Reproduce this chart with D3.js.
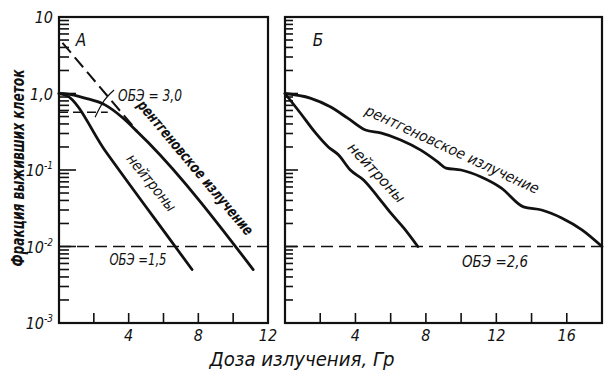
<!DOCTYPE html>
<html>
<head>
<meta charset="utf-8">
<script src="https://cdn.jsdelivr.net/npm/d3@7"></script>
<style>
  body { margin: 0; background: #fff; }
  text { font-family: "Liberation Sans Narrow", "DejaVu Sans Condensed", "Roboto", sans-serif; font-style: italic; fill: #111; }
</style>
</head>
<body>
<div id="chart"></div>
<script>
// values (dose in Gy, surviving fraction)
const neutronA = [[0, 1.0], [0.4, 0.95], [2.64, 0.18], [6.67, 0.01], [7.64, 0.005]];
const xrayA = [[0, 1.0], [0.52, 0.98], [1.5, 0.87], [2.64, 0.71], [3.62, 0.49], [4.54, 0.31], [5.11, 0.23], [11.15, 0.005]];
const xrayAExtrap = [[0.2, 4.6], [4.5, 0.32]];
const neutronB = [[0, 1.0], [0.86, 0.56], [1.71, 0.31], [2.46, 0.2], [3.03, 0.158], [3.71, 0.1], [4.46, 0.074],
                  [5.26, 0.045], [6.0, 0.0275], [6.74, 0.0175], [7.54, 0.01]];
const xrayB = [[0, 1.0], [1.43, 0.87], [2.57, 0.67], [3.54, 0.48], [4.57, 0.333], [5.43, 0.305], [6.57, 0.247],
               [7.71, 0.182], [8.69, 0.127], [9.14, 0.106], [10.0, 0.1], [11.14, 0.081], [12.29, 0.058],
               [13.54, 0.033], [14.57, 0.03], [15.71, 0.0236], [16.86, 0.0165], [18.0, 0.01]];
const level = 0.01;
const obeLevelA = 0.57;
const xTicksA = [2, 4, 6, 8, 10];
const xTicksB = [2, 4, 6, 8, 10, 12, 14, 16];
const xLabelsA = [4, 8, 12];
const xLabelsB = [4, 8, 12, 16];
const yLabels = [[10, "10", ""], [1, "1,0", ""], [0.1, "10", "-1"], [0.01, "10", "-2"], [0.001, "10", "-3"]];

const W = 616, H = 378;
const svg = d3.select("#chart").append("svg").attr("width", W).attr("height", H);

const y = d3.scaleLog().domain([0.001, 10]).range([323, 17]);
const xA = d3.scaleLinear().domain([0, 12]).range([59, 268]);
const xB = d3.scaleLinear().domain([0, 18]).range([285, 602]);

// log minor ticks
const yTicks = [];
for (let d = -3; d <= 0; d++) {
  for (let m = 1; m <= 9; m++) yTicks.push({v: m * Math.pow(10, d), major: m === 1});
}

function panel(x, xTicks, xLabels, majorLen, minorLen) {
  const x0 = x.range()[0], x1 = x.range()[1];
  const g = svg.append("g");
  g.append("rect").attr("x", x0).attr("y", y(10)).attr("width", x1 - x0).attr("height", y(0.001) - y(10))
    .attr("fill", "none").attr("stroke", "#111").attr("stroke-width", 2.2);
  g.selectAll(".yt").data(yTicks.filter(t => t.v > 0.001)).enter().append("line")
    .attr("x1", x0).attr("x2", d => x0 + (d.major ? majorLen : minorLen))
    .attr("y1", d => y(d.v)).attr("y2", d => y(d.v))
    .attr("stroke", "#111").attr("stroke-width", 1.6);
  g.selectAll(".xt").data(xTicks).enter().append("line")
    .attr("x1", d => x(d)).attr("x2", d => x(d))
    .attr("y1", y(0.001)).attr("y2", y(0.001) - 10)
    .attr("stroke", "#111").attr("stroke-width", 1.6);
  g.selectAll(".xl").data(xLabels).enter().append("text")
    .attr("x", d => x(d)).attr("y", 341).attr("text-anchor", "middle")
    .attr("font-size", 16).text(d => d);
  // 10^-2 dashed level
  g.append("line").attr("x1", x0).attr("x2", x1).attr("y1", y(level)).attr("y2", y(level))
    .attr("stroke", "#111").attr("stroke-width", 1.5).attr("stroke-dasharray", "12,6");
  return g;
}

const gA = panel(xA, xTicksA, xLabelsA, 17, 10);
const gB = panel(xB, xTicksB, xLabelsB, 13, 8);

function curve(g, x, data, width, dash) {
  const line = d3.line().x(d => x(d[0])).y(d => y(d[1])).curve(d3.curveMonotoneX);
  const p = g.append("path").datum(data).attr("d", line)
    .attr("fill", "none").attr("stroke", "#111").attr("stroke-width", width)
    .attr("stroke-linejoin", "round").attr("stroke-linecap", "round");
  if (dash) p.attr("stroke-dasharray", dash).attr("stroke-linecap", "butt");
  return p;
}

curve(gA, xA, neutronA, 2.8);
curve(gA, xA, xrayA, 2.8);
curve(gA, xA, xrayAExtrap, 2, "13,6");
curve(gB, xB, neutronB, 2.8);
curve(gB, xB, xrayB, 2.8);

// short dashed level at the shoulder in panel A
gA.append("line").attr("x1", xA(0)).attr("x2", xA(2.8))
  .attr("y1", y(obeLevelA)).attr("y2", y(obeLevelA))
  .attr("stroke", "#111").attr("stroke-width", 1.4).attr("stroke-dasharray", "9,5");
// thin arc pointer for "ОБЭ = 3,0"
gA.append("path").datum([[2.07, 0.49], [2.58, 0.8], [3.16, 1.11]])
  .attr("d", d3.line().x(d => xA(d[0])).y(d => y(d[1])).curve(d3.curveNatural))
  .attr("fill", "none").attr("stroke", "#111").attr("stroke-width", 1.2);

// y tick labels
const yl = svg.selectAll(".yl").data(yLabels).enter().append("text")
  .attr("x", 53).attr("y", d => y(d[0]) + 6).attr("text-anchor", "end").attr("font-size", 16);
yl.append("tspan").text(d => d[1]);
yl.append("tspan").attr("dy", -7).attr("font-size", 10).text(d => d[2]);

// annotations
function label(x, yy, txt, size, rot, len, weight) {
  const t = svg.append("text").attr("transform", `translate(${x},${yy}) rotate(${rot || 0})`)
    .attr("text-anchor", "middle").attr("dominant-baseline", "middle")
    .attr("font-size", size).attr("font-weight", weight || "normal").text(txt);
  if (len) t.attr("textLength", len).attr("lengthAdjust", "spacingAndGlyphs");
}
label(81, 41, "А", 17);
label(318, 41, "Б", 17);
label(150, 96, "ОБЭ = 3,0", 16, 0, 64);
label(138, 260, "ОБЭ =1,5", 16, 0, 57);
label(495, 262, "ОБЭ =2,6", 16, 0, 66);
label(195, 168, "рентгеновское излучение", 15, 50, 171, "bold");
label(151, 183, "нейтроны", 15, 51, 69);
label(452, 150, "рентгеновское излучение", 15, 25, 190);
label(376, 173, "нейтроны", 15, 47, 76);

// axis titles
svg.append("text").attr("transform", "translate(24,168) rotate(-90)")
  .attr("text-anchor", "middle").attr("font-size", 17).attr("font-weight", "bold")
  .attr("textLength", 197).attr("lengthAdjust", "spacingAndGlyphs").text("Фракция выживших клеток");
svg.append("text").attr("x", 302).attr("y", 366).attr("text-anchor", "middle")
  .attr("font-size", 19).attr("textLength", 185).attr("lengthAdjust", "spacingAndGlyphs")
  .text("Доза излучения, Гр");
</script>
</body>
</html>
